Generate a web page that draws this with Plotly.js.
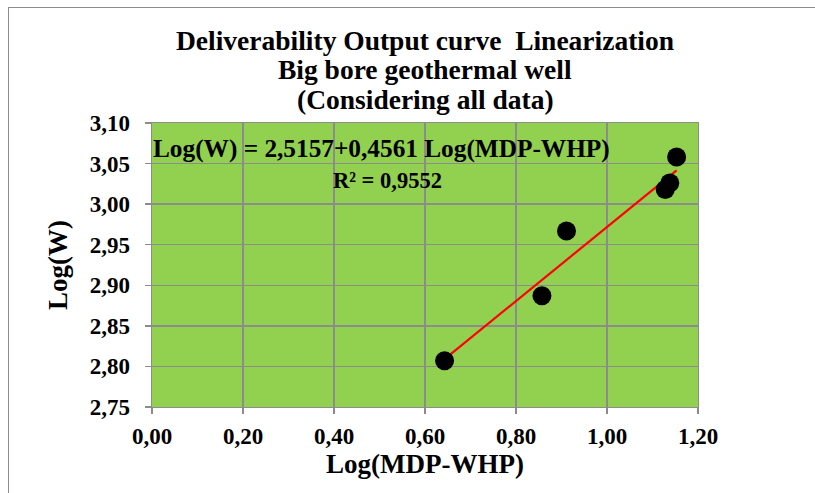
<!DOCTYPE html>
<html>
<head>
<meta charset="utf-8">
<script src="https://cdn.plot.ly/plotly-3.0.1.min.js"></script>
<style>
html,body{margin:0;padding:0;background:#fff;}
#wrap{position:relative;width:815px;height:493px;overflow:hidden;}
#chart{width:815px;height:493px;}
#frame{position:absolute;left:8px;top:7px;width:820px;height:500px;border-left:1.5px solid #8c8c8c;border-top:1.5px solid #8c8c8c;pointer-events:none;}
</style>
</head>
<body>
<div id="wrap">
<div id="chart"></div>
<div id="frame"></div>
</div>
<script>
// Data
const logDP = [0.643, 0.857, 0.911, 1.128, 1.138, 1.153];
const logW  = [2.807, 2.887, 2.967, 3.018, 3.026, 3.058];
// Trendline coefficients shown on the chart
const intercept = 2.5157;
const slope = 0.4561;
const r2Text = "R² = 0,9552";
const eqText = "Log(W) = 2,5157+0,4561 Log(MDP-WHP)";
const titleLines = ["Deliverability Output curve  Linearization", "Big bore geothermal well", "(Considering all data)"];
const xTickVals = [0, 0.2, 0.4, 0.6, 0.8, 1.0, 1.2];
const yTickVals = [2.75, 2.80, 2.85, 2.90, 2.95, 3.00, 3.05, 3.10];

const fmt = v => '<b>' + v.toFixed(2).replace('.', ',') + '</b>';

const xMin = Math.min(...logDP), xMax = Math.max(...logDP);
const trendX = [xMin, xMax];
const trendY = trendX.map(v => intercept + slope * v);

const font = "Liberation Serif, Times New Roman, serif";

const traces = [
  {
    x: trendX, y: trendY, type: 'scatter', mode: 'lines',
    line: {color: '#ff0000', width: 2.2}, hoverinfo: 'skip', showlegend: false
  },
  {
    x: logDP, y: logW, type: 'scatter', mode: 'markers',
    marker: {color: '#000000', size: 19}, showlegend: false
  }
];

const titleY = [1.292, 1.187, 1.081];
const titleAnns = titleLines.map((t, i) => ({
  text: '<b>' + t + '</b>', xref: 'paper', yref: 'paper',
  x: 0.5, y: titleY[i], xanchor: 'center', yanchor: 'middle', showarrow: false,
  font: {family: font, size: 27.5, color: '#000'}
}));

const layout = {
  width: 815, height: 493,
  margin: {l: 152, r: 117, t: 123, b: 86},
  paper_bgcolor: '#ffffff',
  plot_bgcolor: '#92d050',
  font: {family: font, color: '#000', size: 16},
  xaxis: {
    range: [0, 1.2], tickmode: 'array', tickvals: xTickVals, ticktext: xTickVals.map(fmt),
    showgrid: true, gridcolor: '#8c8c8c', gridwidth: 1.3,
    showline: true, linecolor: '#8c8c8c', linewidth: 1.3, mirror: true,
    ticks: 'outside', ticklen: 6, tickcolor: '#8c8c8c', tickwidth: 1.3,
    ticklabelstandoff: 2,
    zeroline: false,
    tickfont: {family: font, size: 23, color: '#000'},
    title: {text: '<b>Log(MDP-WHP)</b>', font: {family: font, size: 27, color: '#000'}, standoff: 4}
  },
  yaxis: {
    range: [2.75, 3.10], tickmode: 'array', tickvals: yTickVals, ticktext: yTickVals.map(fmt),
    showgrid: true, gridcolor: '#8c8c8c', gridwidth: 1.3,
    showline: true, linecolor: '#8c8c8c', linewidth: 1.3, mirror: true,
    ticks: 'outside', ticklen: 6, tickcolor: '#8c8c8c', tickwidth: 1.3,
    ticklabelstandoff: 10,
    zeroline: false,
    tickfont: {family: font, size: 23, color: '#000'},
    title: {text: '<b>Log(W)</b>', font: {family: font, size: 27, color: '#000'}, standoff: 14}
  },
  annotations: titleAnns.concat([
    {
      text: '<b>' + eqText + '</b>', xref: 'x', yref: 'y',
      x: 0.504, y: 3.069, showarrow: false,
      font: {family: font, size: 25.3, color: '#000'}
    },
    {
      text: '<b>' + r2Text + '</b>', xref: 'x', yref: 'y',
      x: 0.517, y: 3.029, showarrow: false,
      font: {family: font, size: 22.5, color: '#000'}
    }
  ])
};

Plotly.newPlot('chart', traces, layout, {staticPlot: true, displayModeBar: false});
</script>
</body>
</html>
